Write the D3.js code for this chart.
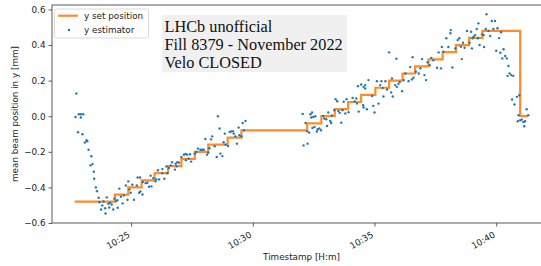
<!DOCTYPE html>
<html><head><meta charset="utf-8">
<script src="https://cdn.jsdelivr.net/npm/d3@7/dist/d3.min.js"></script>
<style>
html,body{margin:0;padding:0;background:#fff;}
svg{display:block;}
</style></head>
<body>
<svg id="chart" width="541" height="266"></svg>
<script>
// ---- data (times as seconds after 10:20:00) ----
const stepTimes  = [161,260,293,326,358,391,424,457,490,538,572,734,769,802,835,867,902,936,969,1000,1033,1068,1101,1133,1166,1259,1279];
const stepValues = [-0.48,-0.44,-0.40,-0.36,-0.32,-0.28,-0.24,-0.20,-0.16,-0.12,-0.08,-0.04,0.00,0.04,0.08,0.12,0.16,0.20,0.24,0.28,0.32,0.36,0.40,0.44,0.48,0.00,0.00];

const estTimes = [165,163,171,176,182,176,169,180,190,192,186,195,202,200,205,208,209,213,216,220,222,232,240,229,226,236,237,244,248,252,246,256,259,263,266,267,271,275,279,287,282,293,291,296,299,303,307,314,320,316,322,
328,323,329,336,340,344,350,348,355,360,362,366,369,377,382,377,387,389,393,398,401,408,410,414,418,412,424,430,434,438,445,435,442,448,457,461,465,471,475,479,487,483,490,493,497,500,506,511,520,525,518,514,528,531,533,539,543,547,551,553,557,561,567,572,565,575,582,578,
723,730,725,735,742,746,744,749,734,739,747,752,758,764,768,760,754,773,776,781,786,783,791,793,795,801,804,808,811,814,818,821,824,828,831,836,846,851,857,861,855,859,867,873,877,872,881,885,877,873,
900,897,910,894,906,914,917,920,927,931,922,941,936,945,943,951,955,959,962,968,972,954,976,984,988,992,996,1002,994,1013,1017,1009,1027,1023,1031,1036,1040,1045,1054,1064,1058,1066,1070,1077,1082,1092,1088,1087,1099,1105,1109,1113,1118,1122,1128,1134,1138,1140,1144,1148,1155,1152,1156,1159,1115,1142,
1165,1169,1170,1174,1176,1181,1185,1189,1193,1197,1203,1207,1212,1200,1210,1218,1215,1222,1226,1230,1228,1233,1237,1242,1251,1257,1239,1245,1255,1253,1259,1263,1267,1271,1275,1279,1269];
const estValues = [0.128,-0.004,0.011,0.011,0.011,-0.007,-0.090,-0.101,-0.135,-0.141,-0.148,-0.188,-0.225,-0.276,-0.269,-0.312,-0.351,-0.400,-0.421,-0.458,-0.483,-0.479,-0.456,-0.501,-0.524,-0.517,-0.547,-0.492,-0.486,-0.496,-0.513,-0.524,-0.464,-0.477,-0.472,-0.514,-0.407,-0.452,-0.490,-0.389,-0.445,-0.366,-0.469,-0.411,-0.430,-0.385,-0.469,-0.389,-0.430,-0.344,-0.344,
-0.440,-0.423,-0.370,-0.376,-0.374,-0.396,-0.394,-0.334,-0.348,-0.366,-0.355,-0.304,-0.355,-0.320,-0.351,-0.297,-0.282,-0.320,-0.291,-0.276,-0.258,-0.300,-0.267,-0.258,-0.261,-0.282,-0.229,-0.216,-0.212,-0.216,-0.214,-0.248,-0.238,-0.255,-0.210,-0.201,-0.182,-0.188,-0.188,-0.188,-0.216,-0.128,-0.205,-0.180,-0.130,-0.113,-0.169,-0.229,-0.210,-0.224,-0.069,0.000,-0.146,-0.098,-0.160,-0.168,-0.088,-0.085,-0.085,-0.098,-0.113,-0.154,-0.107,-0.113,-0.064,-0.038,-0.027,-0.079,
0.013,-0.038,-0.164,-0.154,0.011,0.021,-0.007,-0.004,-0.085,-0.092,-0.066,-0.060,-0.086,-0.068,-0.079,-0.073,0.000,0.002,-0.013,-0.017,0.021,-0.055,-0.027,-0.038,0.004,0.034,0.096,0.084,0.030,0.019,-0.036,0.034,0.081,0.015,0.096,0.023,0.103,0.083,0.072,0.026,0.100,0.169,0.178,0.165,0.175,0.062,0.039,0.203,0.156,0.049,
0.021,0.058,0.071,0.114,0.197,0.175,0.197,0.159,0.197,0.150,0.111,0.134,0.359,0.111,0.212,0.175,0.165,0.182,0.193,0.141,0.203,0.323,0.240,0.197,0.276,0.207,0.216,0.250,0.332,0.269,0.321,0.240,0.203,0.231,0.303,0.287,0.328,0.314,0.272,0.269,0.359,0.389,0.362,0.438,0.389,0.274,0.484,0.466,0.381,0.428,0.438,0.390,0.413,0.385,0.479,0.413,0.475,0.381,0.447,0.456,0.438,0.490,0.522,0.400,0.321,0.438,
0.460,0.456,0.389,0.490,0.573,0.479,0.451,0.535,0.490,0.535,0.494,0.439,0.472,0.368,0.357,0.376,0.325,0.338,0.325,0.282,0.227,0.241,0.231,0.227,0.109,0.118,0.094,0.066,0.006,-0.028,-0.023,-0.019,-0.032,-0.028,0.039,0.006,-0.056];

const yTicks = [-0.6,-0.4,-0.2,0.0,0.2,0.4,0.6];
const xTickTimes = [300,600,900,1200]; // 10:25, 10:30, 10:35, 10:40
const infoLines = ["LHCb unofficial","Fill 8379 - November 2022","Velo CLOSED"];
const legendLabels = ["y set position","y estimator"];

// ---- layout ----
const base = new Date(2022,10,20,10,20,0).getTime();
const toDate = s => new Date(base + s*1000);
const M = {left:52, top:5, right:551, bottom:223};
const blue = "#1f77b4", orange = "#ff7f0e", axisCol = "#333";
const sans = "'DejaVu Sans', Verdana, sans-serif";
const fs = 8.8;

const svg = d3.select("#chart");
const x = d3.scaleTime().domain([toDate(105), toDate(1335)]).range([M.left, M.right]);
const y = d3.scaleLinear().domain([-0.6, 0.625]).range([M.bottom, M.top]);

// set position (steps-post)
const steps = stepTimes.map((t,i)=>[t, stepValues[i]]);
svg.append("path").datum(steps)
  .attr("fill","none").attr("stroke",orange).attr("stroke-width",2.2).attr("stroke-opacity",0.9)
  .attr("d", d3.line().curve(d3.curveStepAfter).x(d=>x(toDate(d[0]))).y(d=>y(d[1])));

// estimator points
svg.append("g").selectAll("circle").data(estTimes.map((t,i)=>[t, estValues[i]]))
  .join("circle").attr("cx",d=>x(toDate(d[0]))).attr("cy",d=>y(d[1])).attr("r",1.2).attr("fill",blue);

// axes
const xAxis = svg.append("g").attr("transform",`translate(0,${M.bottom})`)
  .call(d3.axisBottom(x).tickValues(xTickTimes.map(toDate)).tickFormat(d3.timeFormat("%H:%M")).tickSizeOuter(0).tickSize(3.5));
xAxis.select(".domain").remove();
xAxis.selectAll("line").attr("stroke",axisCol).attr("stroke-width",0.8);
xAxis.selectAll("text").style("font-family",sans).style("font-size",fs+"px").attr("fill","#222")
  .attr("text-anchor","end").attr("dy",null).attr("y",null)
  .attr("transform","translate(-1,13.5) rotate(-30)");

const yAxis = svg.append("g").attr("transform",`translate(${M.left},0)`)
  .call(d3.axisLeft(y).tickValues(yTicks).tickFormat(d=>d3.format(".1f")(d).replace("-","\u2212")).tickSizeOuter(0).tickSize(3.5));
yAxis.select(".domain").remove();
yAxis.selectAll("line").attr("stroke",axisCol).attr("stroke-width",0.8);
yAxis.selectAll("text").style("font-family",sans).style("font-size",fs+"px").attr("fill","#222").attr("x",-6.5);

// frame
svg.append("rect").attr("x",M.left).attr("y",M.top).attr("width",M.right-M.left).attr("height",M.bottom-M.top)
  .attr("fill","none").attr("stroke",axisCol).attr("stroke-width",0.8);

// axis labels
svg.append("text").attr("x",(M.left+M.right)/2).attr("y",260).attr("text-anchor","middle")
  .style("font-family",sans).style("font-size",fs+"px").attr("fill","#222").text("Timestamp [H:m]");
svg.append("text").attr("transform",`translate(18,${(M.top+M.bottom)/2}) rotate(-90)`).attr("text-anchor","middle")
  .style("font-family",sans).style("font-size",fs+"px").attr("fill","#222").text("mean beam position in y [mm]");

// info box
svg.append("rect").attr("x",162).attr("y",15).attr("width",185).attr("height",57).attr("fill","#f0f0f0");
svg.append("g").selectAll("text").data(infoLines).join("text")
  .attr("x",164.5).attr("y",(d,i)=>31.7+i*18.3)
  .style("font-family","'Liberation Serif','Times New Roman',serif").style("font-size","16.3px").attr("fill","#111")
  .text(d=>d);

// legend
const lg = svg.append("g");
lg.append("rect").attr("x",54.5).attr("y",9).attr("width",94).attr("height",29).attr("rx",2)
  .attr("fill","#fff").attr("fill-opacity",0.8).attr("stroke","#d0d0d0").attr("stroke-width",0.8);
lg.append("line").attr("x1",58).attr("x2",78).attr("y1",15.7).attr("y2",15.7)
  .attr("stroke",orange).attr("stroke-width",2.2).attr("stroke-opacity",0.9);
lg.append("circle").attr("cx",69).attr("cy",30).attr("r",1.2).attr("fill",blue);
lg.selectAll("text.l").data(legendLabels).join("text").attr("class","l")
  .attr("x",84).attr("y",(d,i)=>19+i*13.6).style("font-family",sans).style("font-size",fs+"px").attr("fill","#222").text(d=>d);
</script>
</body></html>
